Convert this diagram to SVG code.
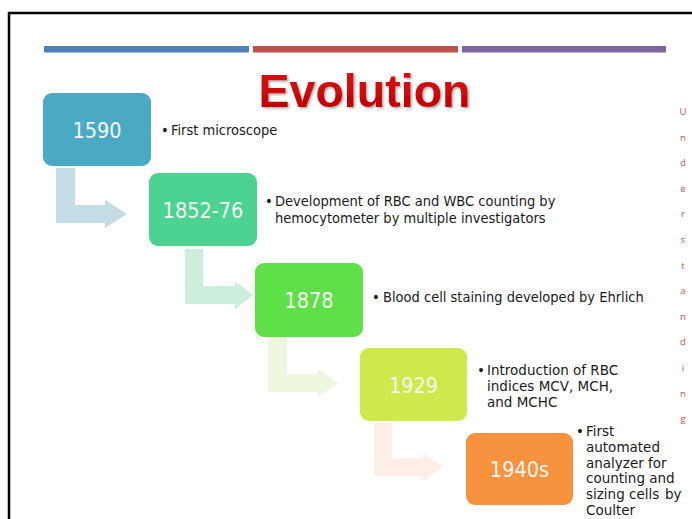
<svg xmlns="http://www.w3.org/2000/svg" width="692" height="519" viewBox="0 0 692 519">
<defs>
<filter id="sh" x="-10%" y="-20%" width="120%" height="150%">
<feDropShadow dx="1.5" dy="1.5" stdDeviation="1" flood-color="#555" flood-opacity="0.5"/>
</filter>
<linearGradient id="tg" x1="0" y1="0" x2="0" y2="1">
<stop offset="0" stop-color="#e01010"/>
<stop offset="1" stop-color="#b80000"/>
</linearGradient>
</defs>
<style>
.yr{font-family:"DejaVu Sans Condensed","DejaVu Sans",sans-serif;font-size:21.5px;fill:#f3f8f3;text-anchor:middle}
.t1{font-family:"DejaVu Sans Condensed","DejaVu Sans",sans-serif;font-size:14.5px;fill:#1a1a1a}
.t2{font-family:"DejaVu Sans",sans-serif;font-size:13.5px;fill:#1a1a1a}
.ud{font-family:"Open Sans","DejaVu Sans",sans-serif;font-size:9.5px;fill:#c9504b;text-anchor:middle}
</style>
<rect width="692" height="519" fill="#ffffff"/>
<path d="M9,519 V13 H692" fill="none" stroke="#000" stroke-width="2.5"/>
<g id="bars">
<rect x="44" y="46" width="205" height="6.5" fill="#4f81bd"/>
<rect x="253" y="46" width="205" height="6.5" fill="#c0504d"/>
<rect x="462" y="46" width="204" height="6.5" fill="#8064a2"/>
</g>
<g id="title">
<text x="364.5" y="107" font-family="'Liberation Sans',Arial,sans-serif" font-weight="bold" font-size="47" fill="url(#tg)" text-anchor="middle" filter="url(#sh)" textLength="212" lengthAdjust="spacingAndGlyphs">Evolution</text>
</g>
<g id="connectors">
<path d="M56,168 H75 V205 H105 V200 L127,214 L105,228 V223 H56 Z" fill="#c4dde6"/>
<path d="M185,249 H203 V286 H235 V281 L253,295 L235,309 V304 H185 Z" fill="#cdeedb"/>
<path d="M268,337 H287 V374 H318 V369 L338,383 L318,397 V392 H268 Z" fill="#eef7dd"/>
<path d="M374,423 H392 V458 H423 V453 L443,467 L423,481 V476 H374 Z" fill="#fdefe8"/>
</g>
<g id="n1590">
<rect x="43" y="93" width="108" height="73" rx="9" fill="#4aaac6"/>
<text class="yr" x="97" y="137.5">1590</text>
<text class="t1" x="161" y="135">•</text>
<text class="t1" x="171" y="135">First microscope</text>
</g>
<g id="n1852">
<rect x="149" y="173" width="108" height="73" rx="9" fill="#4cd291"/>
<text class="yr" x="203" y="217.5">1852-76</text>
<text class="t1" x="265" y="206">•</text>
<text class="t1" x="275" y="206">Development of RBC and WBC counting by</text>
<text class="t1" x="275" y="223">hemocytometer by multiple investigators</text>
</g>
<g id="n1878">
<rect x="255" y="263" width="108" height="74" rx="9" fill="#5fe049"/>
<text class="yr" x="309" y="308">1878</text>
<text class="t1" x="372" y="302">•</text>
<text class="t1" x="383" y="302">Blood cell staining developed by Ehrlich</text>
</g>
<g id="n1929">
<rect x="360" y="348" width="107" height="73" rx="9" fill="#cfe84b"/>
<text class="yr" x="413.5" y="392.5">1929</text>
<text class="t2" x="477" y="375">•</text>
<text class="t2" x="487" y="375">Introduction of RBC</text>
<text class="t2" x="487" y="391">indices MCV, MCH,</text>
<text class="t2" x="487" y="407">and MCHC</text>
</g>
<g id="n1940s">
<rect x="466" y="433" width="107" height="72" rx="9" fill="#f7923f"/>
<text class="yr" x="519.5" y="477">1940s</text>
<text class="t2" x="576" y="436">•</text>
<text class="t2" x="586" y="436">First</text>
<text class="t2" x="586" y="452">automated</text>
<text class="t2" x="586" y="468">analyzer <tspan x="648">for</tspan></text>
<text class="t2" x="586" y="483">counting and</text>
<text class="t2" x="586" y="499">sizing cells <tspan x="665">by</tspan></text>
<text class="t2" x="586" y="515">Coulter</text>
</g>
<g id="understanding">
<text class="ud" x="683" y="115">U</text>
<text class="ud" x="683" y="140.6">n</text>
<text class="ud" x="683" y="166.2">d</text>
<text class="ud" x="683" y="191.8">e</text>
<text class="ud" x="683" y="217.4">r</text>
<text class="ud" x="683" y="243">s</text>
<text class="ud" x="683" y="268.6">t</text>
<text class="ud" x="683" y="294.2">a</text>
<text class="ud" x="683" y="319.8">n</text>
<text class="ud" x="683" y="345.4">d</text>
<text class="ud" x="683" y="371">i</text>
<text class="ud" x="683" y="396.6">n</text>
<text class="ud" x="683" y="422.2">g</text>
</g>
</svg>
